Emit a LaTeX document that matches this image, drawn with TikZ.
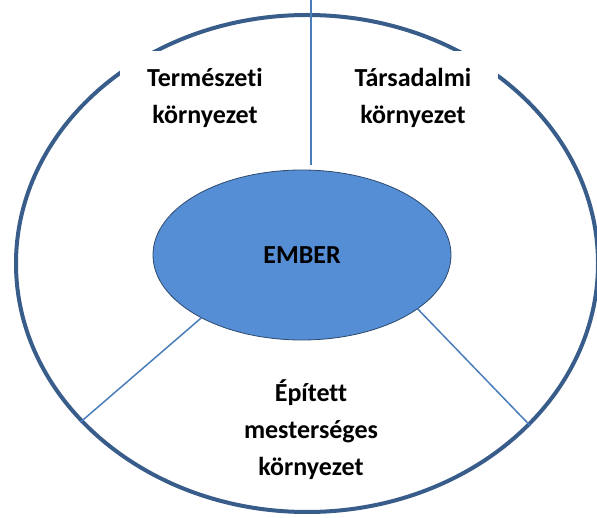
\documentclass[tikz,border=0pt]{standalone}
\usepackage{fontspec}
\setmainfont[Ligatures=NoCommon]{Carlito}
\usetikzlibrary{shapes}
\definecolor{rimblue}{HTML}{385D8A}
\definecolor{corefill}{HTML}{558ED5}
\definecolor{lineblue}{HTML}{4A7EBB}
\tikzstyle{rim}=[ellipse,draw=rimblue,line width=4pt,minimum width=582pt,minimum height=497pt,inner sep=0pt]
\tikzstyle{core}=[ellipse,draw=rimblue!80!black,fill=corefill,line width=0.8pt,minimum width=298pt,minimum height=170pt,inner sep=0pt,font=\fontsize{26}{30}\selectfont\bfseries]
\tikzstyle{envbox}=[fill=white,align=center,minimum width=170pt,minimum height=93pt,inner sep=0pt,font=\fontsize{26}{37}\selectfont\bfseries]
\tikzstyle{envlabel}=[align=center,inner sep=0pt,font=\fontsize{26}{37}\selectfont\bfseries]
\tikzstyle{divider}=[lineblue,line width=1.5pt]

\begin{document}
\begin{tikzpicture}[x=1pt,y=-1pt]
    \useasboundingbox (0,0) rectangle (597,518);

    \node[rim] (world) at (307,263.5) {};

    \foreach \pos/\name/\label in {{(205,98)/nature/Természeti\\környezet}, {(413,98)/society/Társadalmi\\környezet}}
        \node[envbox] (\name) at \pos {\label};

    \node[envlabel] (built) at (311,430) {Épített\\mesterséges\\környezet};

    \coordinate (cut) at (311,0);

    \node[core] (ember) at (302,255) {EMBER};

       \draw[divider] (cut) -- (cut |- ember.north) [shorten >=4.5pt];
       \draw[divider] (ember.212) -- (world.215.8);
       \draw[divider] (ember.335) -- (world.324.5);

\end{tikzpicture}
\end{document}
